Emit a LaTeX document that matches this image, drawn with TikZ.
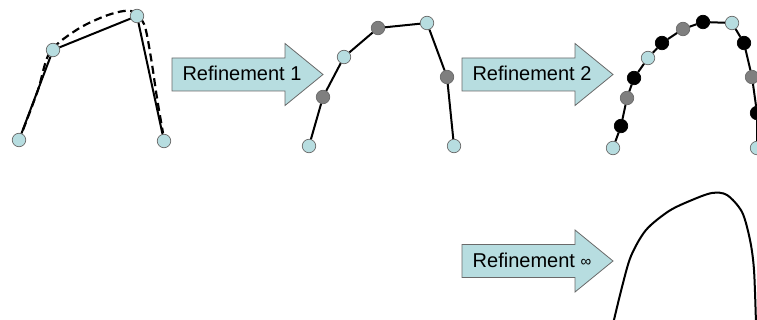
\documentclass[tikz,border=0pt]{standalone}
\usepackage{fontspec}
\setmainfont{Liberation Sans}
\definecolor{dotblue}{HTML}{B7DDE0}
\definecolor{dotgray}{HTML}{7F7F7F}
\definecolor{rimgray}{HTML}{6A6A6A}
\tikzset{
  dot/.style={circle, draw=rimgray, line width=0.7pt, minimum size=13.5pt, inner sep=0pt},
  bluedot/.style={dot, fill=dotblue},
  graydot/.style={dot, fill=dotgray},
  blackdot/.style={dot, fill=black, draw=black},
  edge/.style={line width=2pt, black},
  limit/.style={line width=2.2pt, black, dash pattern=on 8pt off 4.5pt},
  arrowbox/.style={fill=dotblue, draw=rimgray, line width=0.8pt},
  arrowtext/.style={font=\fontsize{20}{23}\selectfont, inner sep=0pt}
}
% arrow shape: left end, body height, head height, total length
\newcommand{\refarrow}[4]{%
  \draw[arrowbox] (#1,#2-16.5) -- (#1+113,#2-16.5) -- (#1+113,#2-31)
    -- (#1+151,#2) -- (#1+113,#2+31) -- (#1+113,#2+16.5)
    -- (#1,#2+16.5) -- cycle;
  \node[arrowtext] (#3) at (#1+70,#2-1) {#4};}
\begin{document}
\begin{tikzpicture}[x=1pt, y=-1pt]
  \useasboundingbox (0,0) rectangle (757,320);
  \clip (0,0) rectangle (757,320);

  % control polygon and its limit
  \draw[limit] plot[smooth] coordinates {(23,130) (38,90) (50,52) (78,29)
    (108,15) (131,11) (144,24) (151,58) (157,98) (163,133)};
  \node[bluedot] (a0) at (19,140) {};
  \node[bluedot] (a1) at (53,50) {};
  \node[bluedot] (a2) at (137,16) {};
  \node[bluedot] (a3) at (164,141) {};
  \draw[edge] (a0) -- (a1) -- (a2) -- (a3);

  \refarrow{172}{74.5}{r1}{Refinement 1}

  % first refinement
  \node[bluedot] (b0) at (309,146) {};
  \node[graydot] (b1) at (323,97) {};
  \node[bluedot] (b2) at (344,57) {};
  \node[graydot] (b3) at (378,28) {};
  \node[bluedot] (b4) at (427,23) {};
  \node[graydot] (b5) at (447,77) {};
  \node[bluedot] (b6) at (454,146) {};
  \draw[edge] (b0) -- (b1) -- (b2) -- (b3) -- (b4) -- (b5) -- (b6);

  \refarrow{462}{74.5}{r2}{Refinement 2}

  % second refinement
  \node[bluedot] (c0) at (613,148) {};
  \node[blackdot] (c1) at (621,126) {};
  \node[graydot] (c2) at (627,98) {};
  \node[blackdot] (c3) at (634,78) {};
  \node[bluedot] (c4) at (648,58) {};
  \node[blackdot] (c5) at (662,43) {};
  \node[graydot] (c6) at (683,29) {};
  \node[blackdot] (c7) at (703,22) {};
  \node[bluedot] (c8) at (732,23) {};
  \node[blackdot] (c9) at (744,43) {};
  \node[graydot] (c10) at (752,77) {};
  \node[blackdot] (c11) at (757,113) {};
  \node[bluedot] (c12) at (757,148) {};
  \draw[edge] (c0) -- (c1) -- (c2) -- (c3) -- (c4) -- (c5) -- (c6)
    -- (c7) -- (c8) -- (c9) -- (c10) -- (c11) -- (c12);

  \refarrow{462}{261}{r3}{Refinement \raisebox{1pt}{\scalebox{0.75}{∞}}}

  % limit curve
  \draw[edge] plot[smooth] coordinates {(613,324) (622,287) (631,256)
    (646,230) (669,211) (692,200) (712,193) (727,195) (742,212)
    (750,240) (754,270) (756,324)};
\end{tikzpicture}
\end{document}
